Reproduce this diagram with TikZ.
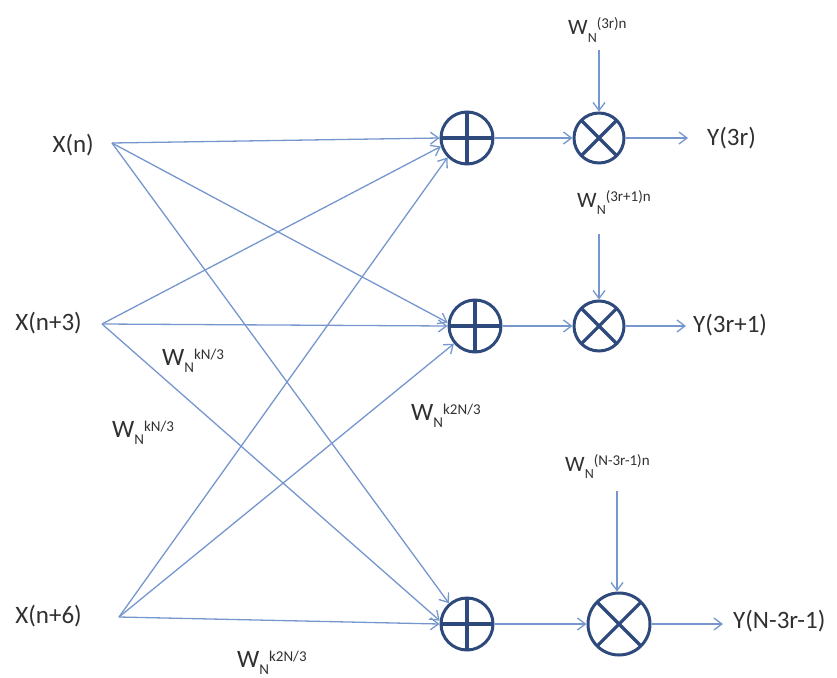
\documentclass[tikz,border=0pt]{standalone}
\usepackage{fontspec}
\setmainfont{Carlito}
\usetikzlibrary{arrows.meta}

\definecolor{wire}{RGB}{118,150,206}
\definecolor{ring}{RGB}{46,74,124}
\definecolor{ink}{RGB}{48,48,48}

% twiddle factor label: W_N^{sup}
% #1 size of W, #2 size of N, #3 size of exponent, #4 exponent text
\newcommand{\twid}[4]{{\fontsize{#1}{#1}\selectfont W}%
  \raisebox{-7pt}{\fontsize{#2}{#2}\selectfont N}%
  \raisebox{6pt}{\fontsize{#3}{#3}\selectfont #4}}
\newcommand{\twbig}[1]{\twid{25}{15}{15}{#1}}
\newcommand{\twsmall}[1]{\twid{22}{14}{15}{#1}}

\begin{document}
\begin{tikzpicture}[x=1pt, y=-1pt,
  font=\fontsize{25}{25}\selectfont, text=ink,
  wirearr/.style={draw=wire, line width=1.3pt,
    -{Straight Barb[length=8pt,width=12pt,line width=1.3pt]}},
  adder/.style={circle, draw=ring, line width=3pt, minimum size=#1,
    inner sep=0pt,
    path picture={\draw[ring, line width=3.2pt]
      (path picture bounding box.north) -- (path picture bounding box.south)
      (path picture bounding box.west) -- (path picture bounding box.east);}},
  adder/.default=52pt,
  mult/.style={circle, draw=ring, line width=3pt, minimum size=#1,
    inner sep=0pt,
    path picture={\draw[ring, line width=3.2pt]
      (path picture bounding box.north west) -- (path picture bounding box.south east)
      (path picture bounding box.south west) -- (path picture bounding box.north east);}},
  mult/.default=50pt,
  lab/.style={inner sep=0pt}
]
\useasboundingbox (0,0) rectangle (837,677);

% inputs
\node[lab, anchor=east] (in0) at (94,145) {X(n)};
\node[lab, anchor=east] (in3) at (82,323) {X(n+3)};
\node[lab, anchor=east] (in6) at (82,616) {X(n+6)};
\coordinate (s0) at (112,143);
\coordinate (s3) at (102,324);
\coordinate (s6) at (119,617);

% adders
\node[adder] (a1) at (467,138) {};
\node[adder] (a2) at (475,326) {};
\node[adder] (a3) at (467,624) {};

% multipliers
\node[mult] (m1) at (599,138) {};
\node[mult] (m2) at (599,326) {};
\node[mult=62pt] (m3) at (619,624) {};

% outputs
\node[lab, anchor=west] (y1) at (707,138) {Y(3r)};
\node[lab, anchor=west] (y2) at (693,325) {Y(3r+1)};
\node[lab, anchor=west] (y3) at (733,621) {Y(N-3r-1)};
\coordinate (e1) at (688,138);
\coordinate (e2) at (686,326);
\coordinate (e3) at (723,624);

% twiddle factors fed to the multipliers
\node[lab, anchor=base west] (w1) at (568,35) {\twsmall{(3r)n}};
\node[lab, anchor=base west] (w2) at (577,207) {\twsmall{(3r+1)n}};
\node[lab, anchor=base west] (w3) at (565,471) {\twsmall{(N-3r-1)n}};
\coordinate (t1) at (599,50);
\coordinate (t2) at (599,234);
\coordinate (t3) at (617,491);

% weights on the butterfly branches
\node[lab, anchor=base west] (k1) at (162,365) {\twbig{kN/3}};
\node[lab, anchor=base west] (k2) at (112,437) {\twbig{kN/3}};
\node[lab, anchor=base west] (k3) at (411,420) {\twbig{k2N/3}};
\node[lab, anchor=base west] (k4) at (237,667) {\twbig{k2N/3}};

% butterfly branches
\draw[wirearr] (s0) -- (a1.180);
\draw[wirearr] (s0) -- (a2.173);
\draw[wirearr] (s0) -- (a3.131);
\draw[wirearr] (s3) -- (a1.198);
\draw[wirearr] (s3) -- (a2.180);
\draw[wirearr] (s3) -- (a3.173);
\draw[wirearr] (s6) -- (a1.225);
\draw[wirearr] (s6) -- (a2.220);
\draw[wirearr] (s6) -- (a3.180);

% adder to multiplier
\draw[wirearr] (a1) -- (m1);
\draw[wirearr] (a2) -- (m2);
\draw[wirearr] (a3) -- (m3);

% twiddle inputs
\draw[wirearr] (t1) -- (m1);
\draw[wirearr] (t2) -- (m2);
\draw[wirearr] (t3) -- (m3.north -| t3);

% outputs
\draw[wirearr] (m1) -- (e1);
\draw[wirearr] (m2) -- (e2);
\draw[wirearr] (m3) -- (e3);
\end{tikzpicture}
\end{document}
